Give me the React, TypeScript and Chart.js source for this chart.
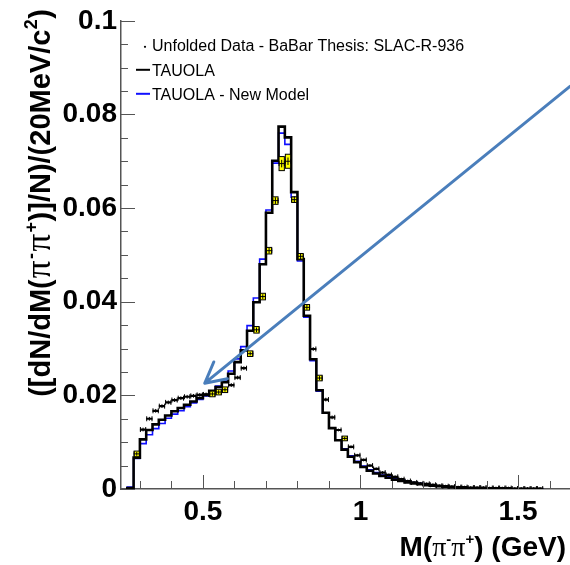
import React, { useEffect, useRef } from "react";
import { Chart, registerables } from "chart.js";

Chart.register(...registerables);

// ---- data ----
const BIN_WIDTH = 0.02;
const massBins = [
  0.26, 0.28, 0.3, 0.32, 0.34, 0.36, 0.38, 0.4, 0.42, 0.44, 0.46, 0.48, 0.5, 0.52, 0.54, 0.56, 0.58, 0.6, 0.62, 0.64,
  0.66, 0.68, 0.7, 0.72, 0.74, 0.76, 0.78, 0.8, 0.82, 0.84, 0.86, 0.88, 0.9, 0.92, 0.94, 0.96, 0.98, 1.0, 1.02, 1.04,
  1.06, 1.08, 1.1, 1.12, 1.14, 1.16, 1.18, 1.2, 1.22, 1.24, 1.26, 1.28, 1.3, 1.32, 1.34, 1.36, 1.38, 1.4, 1.42, 1.44,
  1.46, 1.48, 1.5, 1.52, 1.54, 1.56,
];

const tauola = [
  0.0002, 0.0067, 0.0106, 0.0126, 0.0138, 0.0148, 0.0157, 0.0166, 0.0173, 0.018, 0.0187, 0.0194, 0.0201, 0.021, 0.0218, 0.0228, 0.0246, 0.0271, 0.0296, 0.0338,
  0.0399, 0.048, 0.059, 0.0701, 0.0774, 0.0751, 0.0634, 0.0491, 0.037, 0.0277, 0.0211, 0.0163, 0.013, 0.0104, 0.0084, 0.0069, 0.0057, 0.0047, 0.0039, 0.0033,
  0.0028, 0.0024, 0.002, 0.0017, 0.0014, 0.0012, 0.001, 0.0008, 0.0007, 0.0006, 0.0005, 0.0004, 0.0003, 0.0002, 0.0001, 0, 0, 0, 0, 0,
  0, 0, 0, 0, 0, 0,
];

const newModel = [
  0.0004, 0.0065, 0.0097, 0.0116, 0.0129, 0.014, 0.0151, 0.016, 0.0167, 0.0176, 0.0184, 0.0191, 0.0199, 0.0209, 0.022, 0.0233, 0.0252, 0.0278, 0.0304, 0.0349,
  0.0408, 0.0491, 0.0596, 0.0696, 0.076, 0.0736, 0.0623, 0.0487, 0.0367, 0.0274, 0.0209, 0.0162, 0.013, 0.0105, 0.0086, 0.0071, 0.0059, 0.0049, 0.0041, 0.0035,
  0.003, 0.0026, 0.0022, 0.0019, 0.0016, 0.0014, 0.0012, 0.001, 0.0008, 0.0007, 0.0005, 0.0004, 0.0003, 0.0002, 0.0001, 0, 0, 0, 0, 0,
  0, 0, 0, 0, 0, 0,
];

const unfolded: (number | null)[] = [
  null, 0.0075, 0.0127, 0.015, 0.0167, 0.0177, 0.0185, 0.019, 0.0194, 0.0197, 0.0199, 0.0201, 0.0202, 0.0203, 0.0207, 0.0212, 0.0222, 0.0238, 0.0258, 0.0289,
  0.034, 0.0411, 0.0509, 0.0616, 0.0695, 0.07, 0.0618, 0.0497, 0.0388, 0.0299, 0.0237, 0.0191, 0.0153, 0.0126, 0.0108, 0.009, 0.0072, 0.0062, 0.005, 0.0043,
  0.0035, 0.003, 0.0026, 0.0021, 0.0017, 0.0014, 0.0012, 0.0011, 0.0009, 0.0007, 0.0006, 0.0005, 0.0004, 0.0004, 0.0003, 0.0003, 0.0003, 0.0002, 0.0002, 0.0002,
  0.0002, 0.0001, 0.0001, 0.0001, 0.0001, 0.0001,
];

const statErr = [
  0, 0.0004, 0.0004, 0.0004, 0.0004, 0.0004, 0.0004, 0.0004, 0.0004, 0.0004, 0.0004, 0.0004, 0.0004, 0.0004, 0.0004, 0.0004, 0.0004, 0.0004, 0.0004, 0.0004,
  0.0005, 0.0005, 0.0006, 0.0007, 0.0008, 0.0008, 0.0007, 0.0006, 0.0005, 0.0004, 0.0004, 0.0004, 0.0004, 0.0003, 0.0003, 0.0003, 0.0003, 0.0003, 0.0003, 0.0003,
  0.0003, 0.0003, 0.0003, 0.0003, 0.0003, 0.0003, 0.0003, 0.0003, 0.0003, 0.0003, 0.0003, 0.0003, 0.0003, 0.0003, 0.0003, 0.0003, 0.0003, 0.0003, 0.0003, 0.0003,
  0.0003, 0.0003, 0.0003, 0.0003, 0.0003, 0.0003,
];

const systErr = [
  0, 0.0006, 0, 0, 0, 0, 0, 0, 0, 0, 0, 0, 0, 0.0006, 0.0006, 0.0006, 0, 0, 0, 0.0006,
  0.0007, 0.0007, 0.0007, 0.0008, 0.0015, 0.0015, 0.0006, 0.0006, 0.0006, 0, 0.0006, 0, 0, 0, 0.0005, 0, 0, 0, 0, 0,
  0, 0, 0, 0, 0, 0, 0, 0, 0, 0, 0, 0, 0, 0, 0, 0, 0, 0, 0, 0,
  0, 0, 0, 0, 0, 0,
];

const xTicks = [0.5, 1, 1.5];
const xMinorTicks = [0.3, 0.4, 0.6, 0.7, 0.8, 0.9, 1.1, 1.2, 1.3, 1.4, 1.6];
const yTicks = [0, 0.02, 0.04, 0.06, 0.08, 0.1];
const yMinorTicks = [0.005, 0.01, 0.015, 0.025, 0.03, 0.035, 0.045, 0.05, 0.055, 0.065, 0.07, 0.075, 0.085, 0.09, 0.095];

const legendLabels = ["Unfolded Data - BaBar Thesis: SLAC-R-936", "TAUOLA", "TAUOLA - New Model"];

const arrowTail = { x: 1.665, y: 0.086 };
const arrowTip = { x: 0.506, y: 0.0226 };

type Part = { t: string; k: "b" | "g" | "s" };
const yTitleParts: Part[] = [
  { t: "([dN/dM(", k: "b" },
  { t: "π", k: "g" },
  { t: "-", k: "s" },
  { t: "π", k: "g" },
  { t: "+", k: "s" },
  { t: ")]/N)/(20MeV/c", k: "b" },
  { t: "2", k: "s" },
  { t: ")", k: "b" },
];
const xTitleParts: Part[] = [
  { t: "M(", k: "b" },
  { t: "π", k: "g" },
  { t: "-", k: "s" },
  { t: "π", k: "g" },
  { t: "+", k: "s" },
  { t: ") (GeV)", k: "b" },
];

// ---- helpers ----
function histPoints(vals: number[]) {
  const pts: { x: number; y: number }[] = [{ x: massBins[0], y: 0 }];
  massBins.forEach((b, i) => pts.push({ x: b, y: vals[i] }));
  const last = massBins[massBins.length - 1] + BIN_WIDTH;
  pts.push({ x: last, y: vals[vals.length - 1] });
  pts.push({ x: last, y: 0 });
  return pts;
}

type FontSet = Record<string, { font: string; dy: number; pad: number }>;
const xTitleFonts: FontSet = {
  b: { font: 'bold 28px "Liberation Sans"', dy: 0, pad: 0 },
  g: { font: '28px "Liberation Serif"', dy: 0, pad: 0 },
  s: { font: 'bold 15px "Liberation Sans"', dy: -12, pad: 0 },
};
const yTitleFonts: FontSet = {
  b: { font: 'bold 29px "Liberation Sans"', dy: 0, pad: 0 },
  g: { font: '35px "Liberation Serif"', dy: 0, pad: 2 },
  s: { font: 'bold 18px "Liberation Sans"', dy: -13, pad: 1 },
};

function drawRich(ctx: CanvasRenderingContext2D, parts: Part[], x: number, y: number, align: "left" | "right", fonts: FontSet) {
  let total = 0;
  const widths = parts.map((p) => {
    ctx.font = fonts[p.k].font;
    const w = ctx.measureText(p.t).width + fonts[p.k].pad;
    total += w;
    return w;
  });
  let cx = align === "right" ? x - total : x;
  ctx.textAlign = "left";
  ctx.textBaseline = "alphabetic";
  parts.forEach((p, i) => {
    const f = fonts[p.k];
    ctx.font = f.font;
    ctx.fillText(p.t, cx + f.pad / 2, y + f.dy);
    cx += widths[i];
  });
}

const overlayPlugin = {
  id: "overlay",
  afterDatasetsDraw(chart: any) {
    const { ctx, chartArea } = chart;
    const xs = chart.scales.x;
    const ys = chart.scales.y;
    ctx.save();
    ctx.beginPath();
    ctx.rect(chartArea.left, chartArea.top - 5, chartArea.right - chartArea.left, chartArea.bottom - chartArea.top + 5);
    ctx.clip();
    ctx.strokeStyle = "#000";
    unfolded.forEach((v, i) => {
      if (v == null) return;
      const x0 = xs.getPixelForValue(massBins[i]);
      const x1 = xs.getPixelForValue(massBins[i] + BIN_WIDTH);
      const xc = (x0 + x1) / 2;
      const yc = ys.getPixelForValue(v);
      if (systErr[i] > 0) {
        const yt = ys.getPixelForValue(v + systErr[i]);
        const yb = ys.getPixelForValue(v - systErr[i]);
        ctx.fillStyle = "#ffff00";
        ctx.fillRect(x0 + 0.5, yt, x1 - x0 - 1, yb - yt);
        ctx.lineWidth = 1;
        ctx.strokeRect(x0 + 0.5, yt, x1 - x0 - 1, yb - yt);
      }
      // horizontal error bar (bin width)
      ctx.lineWidth = systErr[i] > 0 ? 1 : 2.2;
      ctx.beginPath();
      ctx.moveTo(x0, yc);
      ctx.lineTo(x1, yc);
      ctx.stroke();
      // end caps
      ctx.lineWidth = 1;
      ctx.beginPath();
      ctx.moveTo(x0 + 0.5, yc - 2.5);
      ctx.lineTo(x0 + 0.5, yc + 2.5);
      ctx.moveTo(x1 - 0.5, yc - 2.5);
      ctx.lineTo(x1 - 0.5, yc + 2.5);
      ctx.stroke();
      // statistical error
      const st = ys.getPixelForValue(v + statErr[i]);
      const sb = ys.getPixelForValue(Math.max(0, v - statErr[i]));
      ctx.beginPath();
      ctx.moveTo(xc, st);
      ctx.lineTo(xc, sb);
      ctx.stroke();
    });
    ctx.restore();
  },
  afterDraw(chart: any) {
    const { ctx, chartArea } = chart;
    const xs = chart.scales.x;
    const ys = chart.scales.y;
    ctx.save();
    // inward ticks
    ctx.strokeStyle = "#555";
    ctx.lineWidth = 1;
    ctx.beginPath();
    yTicks.forEach((v) => {
      const p = Math.round(ys.getPixelForValue(v)) + 0.5;
      ctx.moveTo(chartArea.left, p);
      ctx.lineTo(chartArea.left + 14, p);
    });
    yMinorTicks.forEach((v) => {
      const p = Math.round(ys.getPixelForValue(v)) + 0.5;
      ctx.moveTo(chartArea.left, p);
      ctx.lineTo(chartArea.left + 7, p);
    });
    xTicks.forEach((v) => {
      const p = Math.round(xs.getPixelForValue(v)) + 0.5;
      ctx.moveTo(p, chartArea.bottom);
      ctx.lineTo(p, chartArea.bottom - 14);
    });
    xMinorTicks.forEach((v) => {
      const p = Math.round(xs.getPixelForValue(v)) + 0.5;
      ctx.moveTo(p, chartArea.bottom);
      ctx.lineTo(p, chartArea.bottom - 8);
    });
    ctx.stroke();

    // axis titles
    ctx.fillStyle = "#000";
    drawRich(ctx, xTitleParts, 566, 556, "right", xTitleFonts);
    ctx.save();
    ctx.translate(50, 9);
    ctx.rotate(-Math.PI / 2);
    drawRich(ctx, yTitleParts, 0, 0, "right", yTitleFonts);
    ctx.restore();

    // legend
    const lx = chartArea.left + 31;
    const rows = [chartArea.top + 26, chartArea.top + 51, chartArea.top + 75];
    ctx.font = '16px "Liberation Sans"';
    ctx.textBaseline = "middle";
    ctx.textAlign = "left";
    legendLabels.forEach((lab, i) => ctx.fillText(lab, lx, rows[i]));
    ctx.beginPath();
    ctx.arc(lx - 7, rows[0], 1.1, 0, Math.PI * 2);
    ctx.fill();
    ctx.lineWidth = 2;
    ctx.strokeStyle = "#000";
    ctx.beginPath();
    ctx.moveTo(lx - 16, rows[1] - 2);
    ctx.lineTo(lx - 2, rows[1] - 2);
    ctx.stroke();
    ctx.strokeStyle = "#1010ff";
    ctx.beginPath();
    ctx.moveTo(lx - 16, rows[2] - 2);
    ctx.lineTo(lx - 2, rows[2] - 2);
    ctx.stroke();

    // arrow annotation
    const tx = xs.getPixelForValue(arrowTail.x);
    const ty = ys.getPixelForValue(arrowTail.y);
    const hx = xs.getPixelForValue(arrowTip.x);
    const hy = ys.getPixelForValue(arrowTip.y);
    const ang = Math.atan2(ty - hy, tx - hx);
    const wing = 23;
    const spread = (28 * Math.PI) / 180;
    ctx.strokeStyle = "#4a7ebb";
    ctx.lineWidth = 3;
    ctx.lineCap = "round";
    ctx.lineJoin = "round";
    ctx.beginPath();
    ctx.moveTo(tx, ty);
    ctx.lineTo(hx, hy);
    ctx.moveTo(hx + wing * Math.cos(ang - spread), hy + wing * Math.sin(ang - spread));
    ctx.lineTo(hx, hy);
    ctx.lineTo(hx + wing * Math.cos(ang + spread), hy + wing * Math.sin(ang + spread));
    ctx.stroke();
    ctx.restore();
  },
};

export default function App() {
  const canvasRef = useRef<HTMLCanvasElement | null>(null);

  useEffect(() => {
    const canvas = canvasRef.current;
    if (!canvas) return;
    const tickFont = { family: "Liberation Sans", size: 28, weight: "bold" as const };
    const chart = new Chart(canvas, {
      type: "line",
      data: {
        datasets: [
          {
            label: legendLabels[1],
            data: histPoints(tauola),
            borderColor: "#000",
            borderWidth: 2.6,
            stepped: "before",
            pointRadius: 0,
            fill: false,
            tension: 0,
          },
          {
            label: legendLabels[2],
            data: histPoints(newModel),
            borderColor: "#1010ff",
            borderWidth: 1.6,
            stepped: "before",
            pointRadius: 0,
            fill: false,
            tension: 0,
          },
        ],
      },
      options: {
        animation: false,
        responsive: false,
        devicePixelRatio: 1,
        events: [],
        layout: { padding: { top: 19, right: 0, left: 0, bottom: 0 } },
        plugins: { legend: { display: false }, tooltip: { enabled: false } },
        scales: {
          x: {
            type: "linear",
            min: 0.24,
            max: 1.665,
            grid: { display: false, drawTicks: false },
            border: { display: true, color: "#555", width: 1.5 },
            afterBuildTicks: (s: any) => {
              s.ticks = xTicks.map((v) => ({ value: v }));
            },
            afterFit: (s: any) => {
              s.height = 76;
            },
            ticks: {
              font: tickFont,
              color: "#000",
              padding: 6,
              maxRotation: 0,
              autoSkip: false,
              callback: (v: any) => String(v),
            },
          },
          y: {
            type: "linear",
            min: 0,
            max: 0.1,
            grid: { display: false, drawTicks: false },
            border: { display: true, color: "#555", width: 1.5 },
            afterBuildTicks: (s: any) => {
              s.ticks = yTicks.map((v) => ({ value: v }));
            },
            afterFit: (s: any) => {
              s.width = 121;
            },
            ticks: {
              font: tickFont,
              color: "#000",
              padding: 4,
              autoSkip: false,
              callback: (v: any) => String(Number(Number(v).toFixed(3))),
            },
          },
        },
      },
      plugins: [overlayPlugin],
    } as any);
    return () => chart.destroy();
  }, []);

  return (
    <div style={{ position: "fixed", left: 0, top: 0, width: 570, height: 565, background: "#fff" }}>
      <canvas ref={canvasRef} width={570} height={565} />
    </div>
  );
}
